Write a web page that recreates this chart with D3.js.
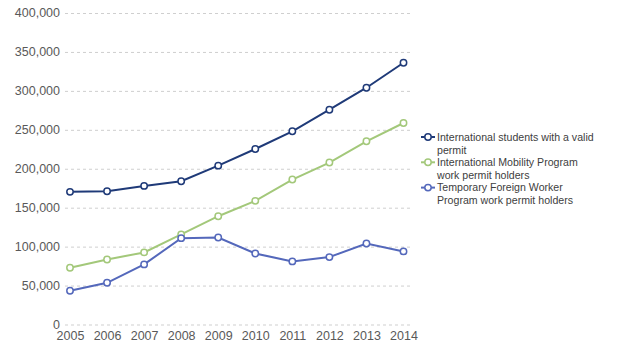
<!DOCTYPE html>
<html><head><meta charset="utf-8">
<script src="https://cdn.jsdelivr.net/npm/d3@7"></script>
<style>body{margin:0;background:#fff}svg{display:block}</style>
</head><body>
<svg id="c" width="624" height="357"></svg>
<script>
const years = [2005,2006,2007,2008,2009,2010,2011,2012,2013,2014];
const students = [171000,171800,178600,184600,204600,226000,248700,276500,304700,336800];
const mobility = [73500,84200,93200,116300,139700,159400,186800,208600,235900,259400];
const tfw = [44000,54200,77800,111500,112400,91900,81700,87200,104700,94500];
const yTicks = [0,50000,100000,150000,200000,250000,300000,350000,400000];
const seriesNames = ["International students with a valid permit","International Mobility Program work permit holders","Temporary Foreign Worker Program work permit holders"];
const seriesLines = [["International students with a valid","permit"],["International Mobility Program","work permit holders"],["Temporary Foreign Worker","Program work permit holders"]];
const colors = ["#1f3a78","#a3c87a","#5468bb"];

const svg = d3.select("#c");
const x = d3.scalePoint().domain(years).range([70,403.5]);
const y = d3.scaleLinear().domain([0,400000]).range([325,13.5]);
const font = "'Liberation Sans', Arial, sans-serif";

// grid
svg.append("g").selectAll("line").data(yTicks).join("line")
  .attr("x1",65).attr("x2",410)
  .attr("y1",d=>y(d)).attr("y2",d=>y(d))
  .attr("stroke","#cfcfcf").attr("stroke-width",1).attr("stroke-dasharray","3,3");

// y axis
const fmt = d3.format(",");
const yAxis = d3.axisLeft(y).tickValues(yTicks).tickFormat(d=>fmt(d)).tickSize(0).tickPadding(0);
const ya = svg.append("g").attr("transform","translate(60,-1)").call(yAxis);
ya.select(".domain").remove();
ya.selectAll("text").attr("font-family",font).attr("font-size",12.5).attr("fill","#595959");

// x axis
const xAxis = d3.axisBottom(x).tickSize(0).tickPadding(0);
const xa = svg.append("g").attr("transform","translate(0,331)").call(xAxis);
xa.select(".domain").remove();
xa.selectAll("text").attr("font-family",font).attr("font-size",12.5).attr("fill","#595959").attr("dy","0.72em");

const data = [students, mobility, tfw];
const line = d3.line().x((d,i)=>x(years[i])).y(d=>y(d));
data.forEach((s,k)=>{
  svg.append("path").datum(s).attr("d",line).attr("fill","none")
    .attr("stroke",colors[k]).attr("stroke-width",2);
  svg.append("g").selectAll("circle").data(s).join("circle")
    .attr("cx",(d,i)=>x(years[i])).attr("cy",d=>y(d)).attr("r",3.2)
    .attr("fill","#fff").attr("stroke",colors[k]).attr("stroke-width",1.5);
});

// legend
const lg = svg.append("g");
const ly0 = 137, lstep = 25.3;
seriesLines.forEach((lines,k)=>{
  const cy = ly0 + k*lstep;
  lg.append("line").attr("x1",421).attr("x2",435).attr("y1",cy).attr("y2",cy)
    .attr("stroke",colors[k]).attr("stroke-width",2);
  lg.append("circle").attr("cx",428).attr("cy",cy).attr("r",3.2)
    .attr("fill","#fff").attr("stroke",colors[k]).attr("stroke-width",1.5);
  const t = lg.append("text").attr("x",437).attr("y",cy+3.8)
    .attr("font-family",font).attr("font-size",10.6).attr("fill","#404040");
  lines.forEach((ln,j)=>t.append("tspan").attr("x",437).attr("dy",j===0?0:12.7).text(ln));
});
</script>
</body></html>
